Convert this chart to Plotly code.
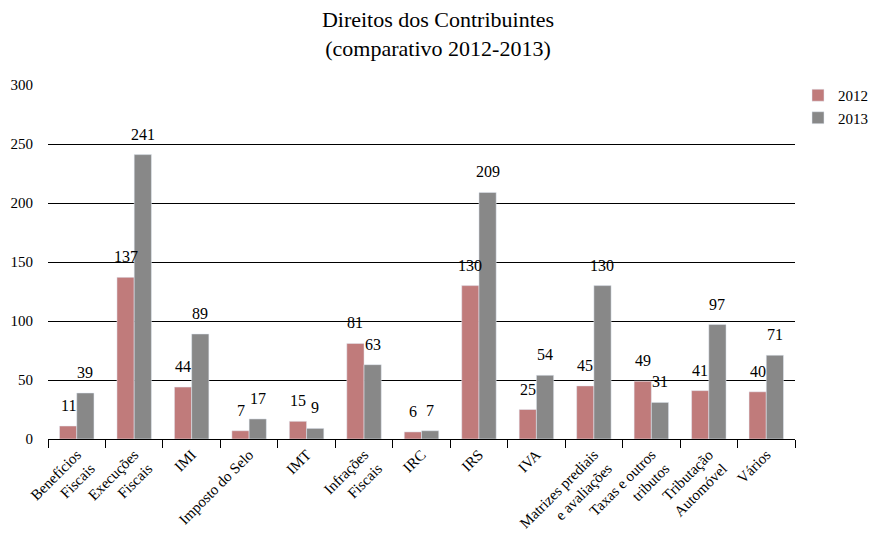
import plotly.graph_objects as go

categories = [
    'Benefícios<br>Fiscais', 'Execuções<br>Fiscais', 'IMI', 'Imposto do Selo', 'IMT',
    'Infrações<br>Fiscais', 'IRC', 'IRS', 'IVA', 'Matrizes prediais<br>e avaliações',
    'Taxas e outros<br>tributos', 'Tributação<br>Automóvel', 'Vários',
]
values_2012 = [11, 137, 44, 7, 15, 81, 6, 130, 25, 45, 49, 41, 40]
values_2013 = [39, 241, 89, 17, 9, 63, 7, 209, 54, 130, 31, 97, 71]
y_ticks = [0, 50, 100, 150, 200, 250, 300]

FONT = 'Liberation Serif'
BAR_GAP = 0.4
PLOT_W = 876 - 48 - 81
HALF_BAR = PLOT_W / len(categories) * (1 - BAR_GAP) / 4

fig = go.Figure()
fig.add_trace(go.Bar(x=categories, y=values_2012, name='2012', marker_color='#C07B7B'))
fig.add_trace(go.Bar(x=categories, y=values_2013, name='2013', marker_color='#888888'))

# value labels, lifted a little above each bar
for vals, shift in ((values_2012, -HALF_BAR), (values_2013, HALF_BAR)):
    for cat, v in zip(categories, vals):
        fig.add_annotation(x=cat, y=v, text=str(v), showarrow=False, xshift=shift,
                           yanchor='bottom', yshift=10,
                           font=dict(family=FONT, size=16, color='black'))

fig.update_layout(
    width=876, height=538,
    margin=dict(l=48, r=81, t=85, b=99, autoexpand=False),
    paper_bgcolor='white', plot_bgcolor='white',
    font=dict(family=FONT, size=15, color='black'),
    title=dict(text='Direitos dos Contribuintes<br>(comparativo 2012-2013)',
               x=0.5, xanchor='center', y=0.95, yanchor='top',
               font=dict(family=FONT, size=22, color='black')),
    barmode='group', bargap=BAR_GAP, bargroupgap=0,
    legend=dict(x=1.004, y=1.017, xanchor='left', yanchor='top',
                font=dict(family=FONT, size=15), tracegroupgap=4, itemwidth=30),
    showlegend=True,
)
fig.update_xaxes(tickangle=-45, showline=True, linecolor='black', linewidth=1.2,
                 ticks='outside', ticklen=8, tickcolor='black', tickson='boundaries',
                 showgrid=False, automargin=False, tickfont=dict(family=FONT, size=15))
fig.update_yaxes(range=[0, 300], tickvals=y_ticks, showgrid=True, gridcolor='black',
                 gridwidth=1.2, zeroline=False, showline=False, ticks='', ticklabelstandoff=14,
                 automargin=False, tickfont=dict(family=FONT, size=15))

# drop the page's default 8px body margin so the figure sits at the window corner
fig.write_html('out.html', config={'displayModeBar': False},
               post_script="document.body.style.margin='0';")
